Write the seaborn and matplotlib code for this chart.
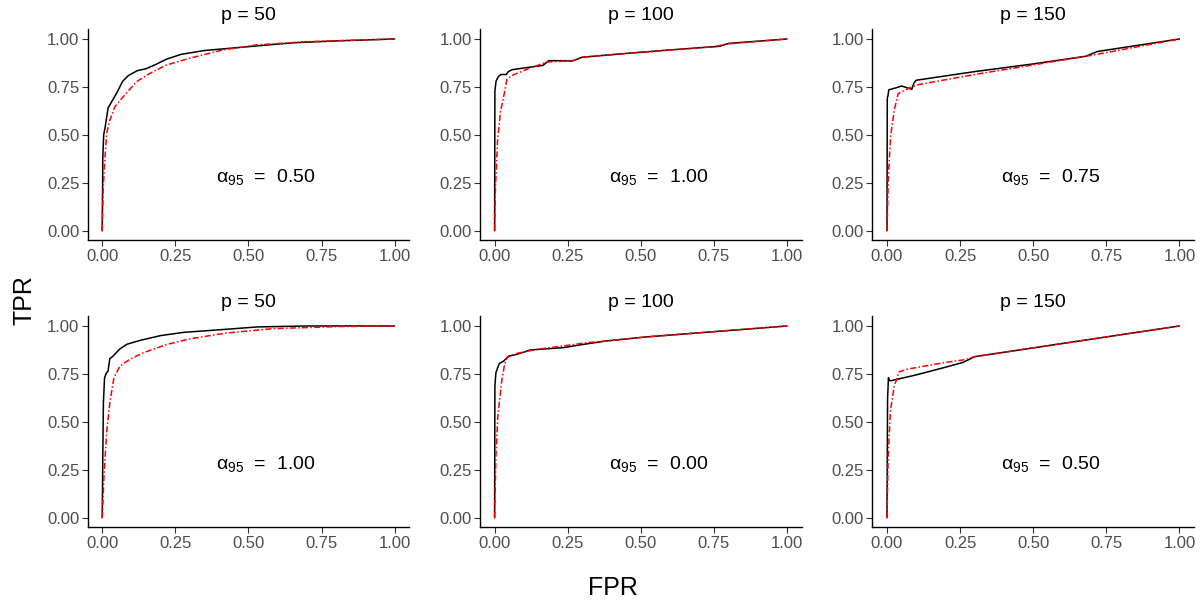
import matplotlib
matplotlib.use("Agg")
import matplotlib.pyplot as plt
import seaborn as sns
import pandas as pd

# panel titles and alpha_95 labels, row by row
titles = ["p = 50", "p = 100", "p = 150", "p = 50", "p = 100", "p = 150"]
alpha95 = ["0.50", "1.00", "0.75", "1.00", "0.00", "0.50"]

# ROC curves: (FPR, TPR)
black_fpr = [
    [0, 0.002, 0.005, 0.01, 0.02, 0.035, 0.05, 0.07, 0.09, 0.12, 0.15, 0.18, 0.22, 0.27, 0.35, 0.5, 0.65, 0.8, 1],
    [0, 0.001, 0.005, 0.013, 0.022, 0.04, 0.047, 0.06, 0.12, 0.165, 0.185, 0.23, 0.265, 0.3, 0.45, 0.6, 0.77, 0.8, 1],
    [0, 0.001, 0.004, 0.006, 0.03, 0.05, 0.07, 0.085, 0.092, 0.1, 0.3, 0.5, 0.68, 0.72, 1],
    [0, 0.002, 0.004, 0.008, 0.014, 0.02, 0.026, 0.035, 0.06, 0.085, 0.13, 0.2, 0.28, 0.4, 0.53, 0.7, 1],
    [0, 0.001, 0.0045, 0.016, 0.031, 0.048, 0.076, 0.122, 0.235, 0.303, 0.383, 0.519, 1],
    [0, 0.002, 0.005, 0.008, 0.015, 0.1, 0.2, 0.26, 0.3, 1],
]
black_tpr = [
    [0, 0.38, 0.5, 0.54, 0.64, 0.68, 0.72, 0.78, 0.81, 0.835, 0.845, 0.865, 0.895, 0.92, 0.94, 0.96, 0.98, 0.99, 1],
    [0, 0.73, 0.78, 0.805, 0.815, 0.815, 0.83, 0.84, 0.853, 0.862, 0.887, 0.887, 0.885, 0.905, 0.925, 0.943, 0.962, 0.977, 1],
    [0, 0.69, 0.71, 0.735, 0.745, 0.755, 0.745, 0.738, 0.77, 0.785, 0.83, 0.87, 0.91, 0.935, 1],
    [0, 0.32, 0.6, 0.73, 0.755, 0.765, 0.83, 0.84, 0.88, 0.905, 0.925, 0.95, 0.967, 0.98, 0.995, 1.0, 1],
    [0, 0.687, 0.757, 0.805, 0.817, 0.843, 0.852, 0.875, 0.887, 0.904, 0.922, 0.943, 1],
    [0, 0.62, 0.73, 0.715, 0.715, 0.745, 0.785, 0.81, 0.84, 1],
]
red_fpr = [
    [0, 0.003, 0.006, 0.015, 0.026, 0.043, 0.072, 0.117, 0.162, 0.219, 0.3, 0.41, 0.526, 0.696, 1],
    [0, 0.003, 0.01, 0.02, 0.035, 0.042, 0.06, 0.12, 0.18, 0.27, 0.3, 0.5, 0.75, 0.8, 1],
    [0, 0.005, 0.013, 0.025, 0.038, 0.07, 0.1, 0.3, 0.5, 0.7, 1],
    [0, 0.006, 0.015, 0.026, 0.04, 0.06, 0.094, 0.14, 0.219, 0.3, 0.423, 0.582, 0.81, 1],
    [0, 0.0045, 0.011, 0.025, 0.033, 0.042, 0.076, 0.144, 0.235, 0.315, 0.383, 0.519, 1],
    [0, 0.004, 0.012, 0.025, 0.033, 0.04, 0.07, 0.2, 0.27, 0.3, 1],
]
red_tpr = [
    [0, 0.2, 0.3, 0.507, 0.577, 0.646, 0.699, 0.777, 0.82, 0.864, 0.9, 0.942, 0.969, 0.986, 1],
    [0, 0.23, 0.47, 0.62, 0.73, 0.79, 0.81, 0.848, 0.88, 0.888, 0.905, 0.93, 0.96, 0.975, 1],
    [0, 0.3, 0.5, 0.63, 0.715, 0.74, 0.76, 0.815, 0.865, 0.915, 1],
    [0, 0.217, 0.443, 0.6, 0.73, 0.79, 0.826, 0.86, 0.903, 0.933, 0.963, 0.986, 0.997, 1],
    [0, 0.322, 0.53, 0.722, 0.791, 0.835, 0.857, 0.878, 0.896, 0.913, 0.922, 0.943, 1],
    [0, 0.32, 0.56, 0.69, 0.72, 0.76, 0.775, 0.81, 0.825, 0.84, 1],
]

rows = []
for i in range(6):
    for f, t in zip(black_fpr[i], black_tpr[i]):
        rows.append((i, "black", f, t))
    for f, t in zip(red_fpr[i], red_tpr[i]):
        rows.append((i, "red", f, t))
df = pd.DataFrame(rows, columns=["panel", "method", "FPR", "TPR"])

sns.set_style("white")
plt.rcParams["font.family"] = ["Liberation Sans", "DejaVu Sans"]
plt.rcParams["mathtext.fontset"] = "custom"
plt.rcParams["mathtext.rm"] = "Liberation Sans"
plt.rcParams["mathtext.it"] = "Liberation Sans:italic"
plt.rcParams["text.color"] = "black"

fig, axes = plt.subplots(2, 3, figsize=(12, 6), dpi=100)
fig.subplots_adjust(left=0.073, right=0.995, bottom=0.121, top=0.951, wspace=0.22, hspace=0.36)

ticks = [0, 0.25, 0.5, 0.75, 1.0]
for i, ax in enumerate(axes.flat):
    sub = df[df["panel"] == i]
    sns.lineplot(data=sub, x="FPR", y="TPR", hue="method", style="method",
                 palette={"black": "black", "red": "red"},
                 dashes={"black": "", "red": (4, 1.5, 1, 1.5)},
                 sort=False, estimator=None, linewidth=1.1, legend=False, ax=ax)
    ax.set_xlim(-0.05, 1.05)
    ax.set_ylim(-0.05, 1.05)
    ax.set_xticks(ticks)
    ax.set_yticks(ticks)
    ax.set_xticklabels([f"{t:.2f}" for t in ticks])
    ax.set_yticklabels([f"{t:.2f}" for t in ticks])
    ax.tick_params(axis="both", labelsize=12, labelcolor="#4D4D4D", color="#333333",
                   length=4, width=0.8, left=True, bottom=True, pad=2)
    ax.set_xlabel("")
    ax.set_ylabel("")
    ax.set_title(titles[i], fontsize=14, pad=7, color="black")
    ax.text(0.56, 0.28, "α$_{95}$  =  " + alpha95[i], fontsize=14,
            ha="center", va="center", color="black")
    for s in ["left", "bottom"]:
        ax.spines[s].set_color("black")
        ax.spines[s].set_linewidth(1.0)
    sns.despine(ax=ax)

fig.text(0.511, 0.02, "FPR", fontsize=18, ha="center", va="center", color="black")
fig.text(0.02, 0.5, "TPR", fontsize=18, ha="center", va="center", rotation=90, color="black")

fig.savefig("out.png", dpi=100)
